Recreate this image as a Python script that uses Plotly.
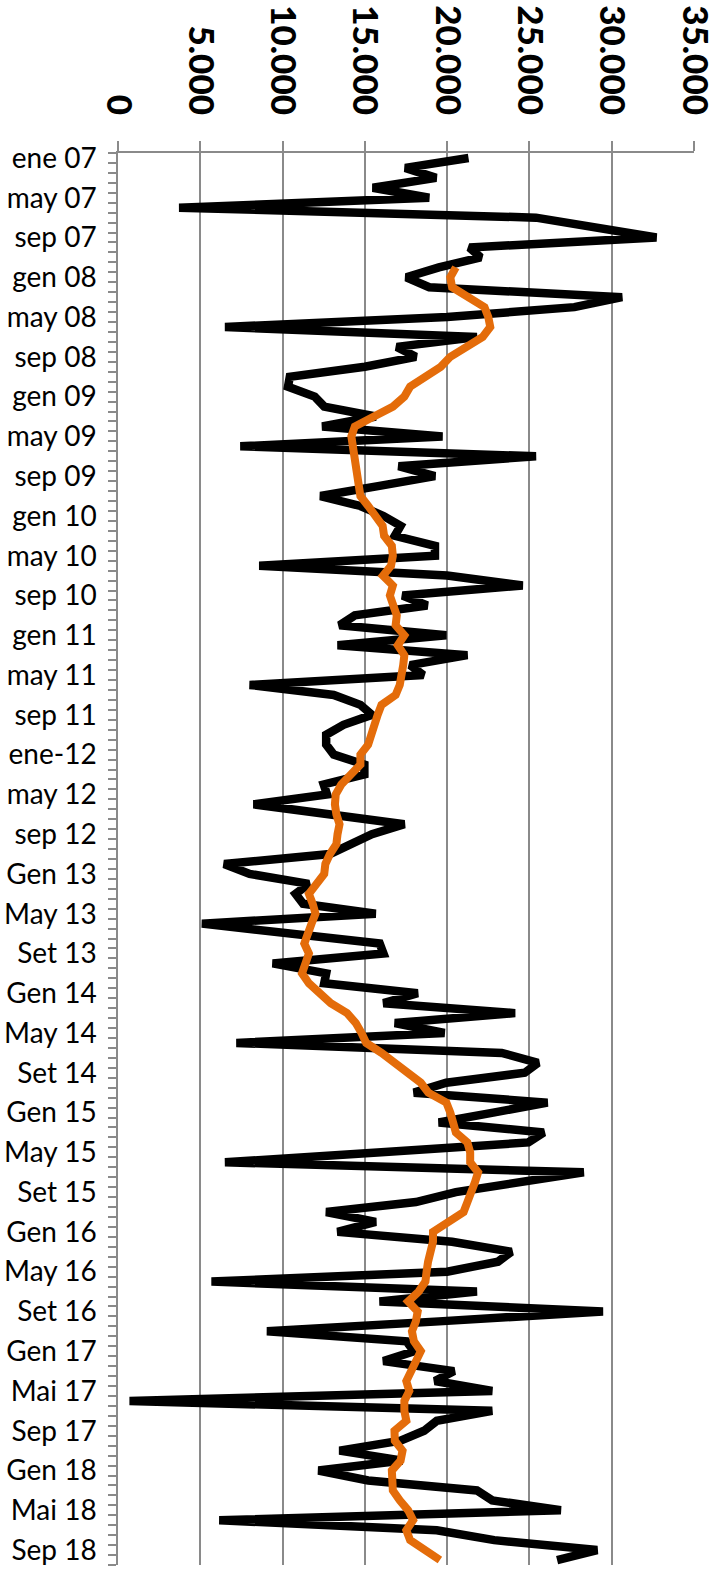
import plotly.graph_objects as go

tick_labels = ["ene 07", "may 07", "sep 07", "gen 08", "may 08", "sep 08", "gen 09", "may 09",
               "sep 09", "gen 10", "may 10", "sep 10", "gen 11", "may 11", "sep 11", "ene-12",
               "may 12", "sep 12", "Gen 13", "May 13", "Set 13", "Gen 14", "May 14", "Set 14",
               "Gen 15", "May 15", "Set 15", "Gen 16", "May 16", "Set 16", "Gen 17", "Mai 17",
               "Sep 17", "Gen 18", "Mai 18", "Sep 18"]

monthly = [21300, 17450, 19330, 15480, 18910, 3710, 25400, 29100, 32720, 21350,
           22040, 19500, 17520, 18910, 30630, 27730, 20000, 6500, 21810, 16940,
           18100, 15000, 10440, 10330, 11950, 12530, 15660, 12410, 19720, 7430,
           25400, 17050, 19260, 15800, 12300, 14730, 16130, 17170, 16820, 19260,
           19260, 8580, 20000, 24590, 17290, 18790, 14390, 13460, 19950, 13340,
           21230, 17750, 18560, 8000, 13110, 14730, 15430, 13700, 12650, 12650,
           13110, 14970, 14970, 12500, 12700, 8240, 12880, 17400, 15430, 14270,
           12880, 6450, 8000, 11600, 10790, 11250, 15660, 5100, 10500, 15900,
           16130, 9400, 12650, 12530, 18210, 16130, 24130, 16820, 19840, 7190,
           23320, 25520, 24710, 19950, 17980, 26100, 22800, 19490, 25870, 24940,
           16000, 6500, 28300, 24500, 20530, 18100, 12650, 15660, 13340, 20300,
           23900, 23090, 20000, 5680, 21810, 15890, 29470, 19500, 9050, 17520,
           17980, 16130, 20420, 19260, 22740, 700, 22740, 19370, 18600, 17170,
           13460, 17290, 12180, 15200, 21810, 22740, 26910, 6150, 19370, 22860,
           29120, 26680]

moving_avg = [20530, 20190, 20300, 21230, 22270, 22500, 22620, 22160, 21230, 20190,
              19610, 18680, 17750, 17400, 16710, 15550, 14390, 14180, 14270, 14390,
              14500, 14570, 14620, 14730, 15200, 15660, 16080, 16170, 16640, 16700,
              16590, 16100, 16700, 16520, 16770, 16940, 16870, 17400, 17000, 17400,
              17330, 17240, 17120, 16870, 16010, 15780, 15550, 15380, 15200, 14730,
              14730, 14150, 13570, 13230, 13180, 13270, 13460, 13340, 13270, 12880,
              12600, 12530, 12000, 11600, 11830, 12000, 11760, 11530, 11320, 11600,
              11370, 11180, 11600, 12300, 12930, 13920, 14450, 14800, 15080, 16010,
              16770, 17700, 18400, 18860, 19950, 20190, 20420, 20530, 21230, 21400,
              21400, 21880, 21690, 21510, 21230, 21000, 20070, 19140, 19140, 18950,
              18840, 18750, 18680, 18270, 17630, 18210, 18100, 17860, 17980, 18400,
              18100, 17700, 17520, 17700, 17400, 17400, 17520, 16800, 16820, 17290,
              17170, 16640, 16640, 16700, 17120, 17630, 17930, 17520, 17750, 18680,
              19560]
ma_start = 11  # first month index of the moving average

n = len(monthly)
idx = list(range(n))
ma_idx = list(range(ma_start, ma_start + len(moving_avg)))
tick_vals = list(range(0, 4 * len(tick_labels), 4))

grid = "#8a8a8a"
font_family = "Lato, 'DejaVu Sans', sans-serif"

fig = go.Figure()
fig.add_trace(go.Scatter(x=monthly, y=idx, mode="lines",
                         line=dict(color="#000000", width=8.5), hoverinfo="skip"))
fig.add_trace(go.Scatter(x=moving_avg, y=ma_idx, mode="lines",
                         line=dict(color="#E46C0A", width=8), hoverinfo="skip"))

fig.update_layout(
    width=718, height=1570,
    margin=dict(l=118, r=24, t=153, b=5),
    paper_bgcolor="white", plot_bgcolor="white",
    showlegend=False,
    separators=",.",
    font=dict(family=font_family, color="#000000"),
    xaxis=dict(
        side="top", range=[0, 35000], tickvals=[0, 5000, 10000, 15000, 20000, 25000, 30000, 35000],
        tickformat=",d", tickangle=90,
        tickfont=dict(size=35, family="Lato, sans-serif", weight=900),
        showgrid=True, gridcolor=grid, gridwidth=1.5,
        showline=True, linecolor=grid, linewidth=1.5,
        ticks="outside", ticklen=10, tickcolor=grid, tickwidth=1.5,
        ticklabelstandoff=14, automargin=False,
        zeroline=False, fixedrange=True,
    ),
    yaxis=dict(
        range=[n - 0.5, -0.5], tickvals=tick_vals, ticktext=tick_labels,
        tickfont=dict(size=28, family=font_family),
        showgrid=False, zeroline=False,
        showline=True, linecolor=grid, linewidth=1.5,
        ticks="", ticklabelstandoff=14, automargin=False,
        minor=dict(tick0=-0.5, dtick=1, ticks="outside", ticklen=8,
                   tickcolor=grid, tickwidth=1.5, showgrid=False),
        fixedrange=True,
    ),
)

fig.write_html("out.html", config={"displayModeBar": False},
               post_script="document.body.style.margin='0';document.body.style.padding='0';")
